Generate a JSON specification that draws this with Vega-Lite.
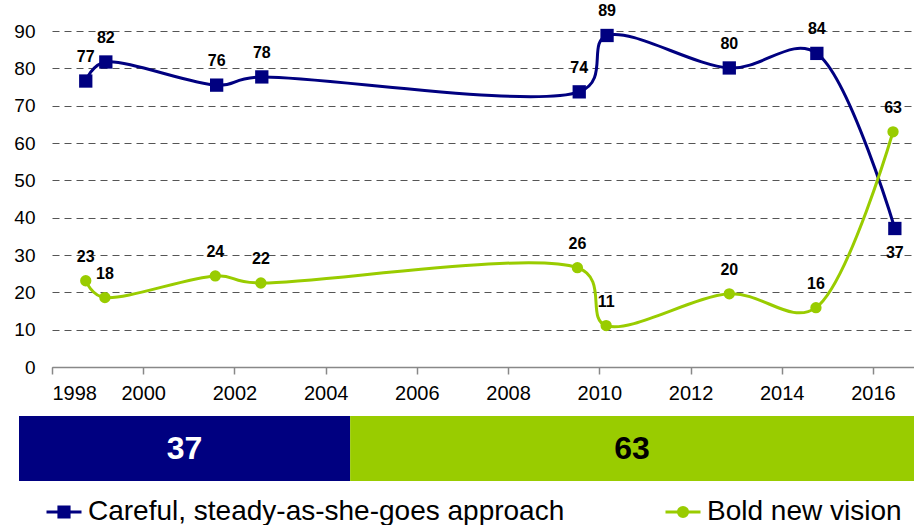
{
  "$schema": "https://vega.github.io/schema/vega-lite/v6.json",
  "padding": {"left": 13, "top": 3, "right": 1, "bottom": 0},
  "background": "white",
  "config": {"view": {"stroke": null}, "font": "Liberation Sans"},
  "datasets": {
    "trend": [
      {"series": "Careful, steady-as-she-goes approach", "year": 1998.74, "pct": 76.6, "label": 77},
      {"series": "Careful, steady-as-she-goes approach", "year": 1999.18, "pct": 81.7, "label": 82},
      {"series": "Careful, steady-as-she-goes approach", "year": 2001.61, "pct": 75.5, "label": 76},
      {"series": "Careful, steady-as-she-goes approach", "year": 2002.6, "pct": 77.7, "label": 78},
      {"series": "Careful, steady-as-she-goes approach", "year": 2009.56, "pct": 73.7, "label": 74},
      {"series": "Careful, steady-as-she-goes approach", "year": 2010.17, "pct": 88.8, "label": 89},
      {"series": "Careful, steady-as-she-goes approach", "year": 2012.85, "pct": 80.1, "label": 80},
      {"series": "Careful, steady-as-she-goes approach", "year": 2014.77, "pct": 84.0, "label": 84},
      {"series": "Careful, steady-as-she-goes approach", "year": 2016.48, "pct": 37.1, "label": 37},
      {"series": "Bold new vision", "year": 1998.74, "pct": 23.1, "label": 23},
      {"series": "Bold new vision", "year": 1999.16, "pct": 18.6, "label": 18},
      {"series": "Bold new vision", "year": 2001.58, "pct": 24.4, "label": 24},
      {"series": "Bold new vision", "year": 2002.58, "pct": 22.5, "label": 22},
      {"series": "Bold new vision", "year": 2009.52, "pct": 26.6, "label": 26},
      {"series": "Bold new vision", "year": 2010.15, "pct": 11.1, "label": 11},
      {"series": "Bold new vision", "year": 2012.85, "pct": 19.6, "label": 20},
      {"series": "Bold new vision", "year": 2014.75, "pct": 15.9, "label": 16},
      {"series": "Bold new vision", "year": 2016.44, "pct": 63.0, "label": 63}
    ],
    "now": [
      {"series": "Careful, steady-as-she-goes approach", "pct": 37},
      {"series": "Bold new vision", "pct": 63}
    ]
  },
  "spacing": 13,
  "vconcat": [
    {
      "width": 862,
      "height": 336,
      "data": {"name": "trend"},
      "encoding": {
        "x": {
          "field": "year", "type": "quantitative",
          "scale": {"domain": [1998, 2016.9], "nice": false, "zero": false},
          "axis": {
            "values": [1998, 2000, 2002, 2004, 2006, 2008, 2010, 2012, 2014, 2016],
            "format": "d", "grid": false, "title": null,
            "domainColor": "#888888", "domainWidth": 1.5,
            "tickColor": "#888888", "tickSize": 7, "tickWidth": 1.5,
            "labelFontSize": 20, "labelPadding": 9, "labelColor": "#000000",
            "labelFont": "Liberation Sans"
          }
        },
        "y": {
          "field": "pct", "type": "quantitative",
          "scale": {"domain": [0, 90], "nice": false},
          "axis": {
            "values": [0, 10, 20, 30, 40, 50, 60, 70, 80, 90],
            "grid": true, "gridDash": [7, 5], "gridColor": "#555555", "gridWidth": 1,
            "domain": false, "ticks": false, "title": null,
            "labelPadding": 17, "labelFontSize": 19, "labelColor": "#000000",
            "labelFont": "Liberation Sans"
          }
        }
      },
      "layer": [
        {
          "mark": {"type": "line", "interpolate": "catmull-rom", "tension": 0.3, "strokeWidth": 3},
          "encoding": {
            "color": {
              "field": "series", "type": "nominal",
              "scale": {"domain": ["Careful, steady-as-she-goes approach", "Bold new vision"], "range": ["#000080", "#99CC00"]},
              "sort": null,
              "legend": {
                "title": null, "orient": "none", "legendX": -7, "legendY": 462, "direction": "horizontal",
                "columns": 2, "columnPadding": 94,
                "symbolSize": 1225, "symbolStrokeWidth": 3,
                "labelFontSize": 28, "labelColor": "#000000", "labelOffset": 5, "labelLimit": 0,
                "labelFont": "Liberation Sans",
                "encode": {
                  "symbols": {
                    "update": {
                      "shape": {"signal": "datum.value === 'Bold new vision' ? 'M-1,0H1M0.26,0A0.26,0.26,0,1,1,-0.26,0A0.26,0.26,0,1,1,0.26,0Z' : 'M-1,0H1M-0.29,-0.29H0.29V0.29H-0.29Z'"},
                      "fill": {"signal": "datum.value === 'Bold new vision' ? '#99CC00' : '#000080'"},
                      "stroke": {"signal": "datum.value === 'Bold new vision' ? '#99CC00' : '#000080'"},
                      "strokeWidth": {"value": 3},
                      "opacity": {"value": 1},
                      "fillOpacity": {"value": 1}
                    }
                  }
                }
              }
            }
          }
        },
        {
          "transform": [{"filter": "datum.series === 'Careful, steady-as-she-goes approach'"}],
          "mark": {"type": "point", "shape": "square", "filled": true, "size": 177, "opacity": 1, "color": "#000080"}
        },
        {
          "transform": [{"filter": "datum.series === 'Bold new vision'"}],
          "mark": {"type": "point", "shape": "circle", "filled": true, "size": 128, "opacity": 1, "color": "#99CC00"}
        },
        {
          "transform": [{"filter": "!(datum.series === 'Careful, steady-as-she-goes approach' && datum.year > 2016)"}],
          "mark": {"type": "text", "dy": -24, "fontSize": 16, "fontWeight": "bold", "color": "#000000", "font": "Liberation Sans"},
          "encoding": {"text": {"field": "label", "type": "quantitative"}}
        },
        {
          "transform": [{"filter": "datum.series === 'Careful, steady-as-she-goes approach' && datum.year > 2016"}],
          "mark": {"type": "text", "dy": 25, "fontSize": 16, "fontWeight": "bold", "color": "#000000", "font": "Liberation Sans"},
          "encoding": {"text": {"field": "label", "type": "quantitative"}}
        }
      ]
    },
    {
      "width": 862,
      "height": 65,
      "data": {"name": "now"},
      "transform": [
        {"stack": "pct", "groupby": [], "as": ["p0", "p1"], "sort": [{"field": "series", "order": "descending"}]},
        {"calculate": "(datum.p0 + datum.p1) / 2", "as": "mid"}
      ],
      "layer": [
        {
          "mark": {"type": "bar"},
          "encoding": {
            "x": {"field": "p0", "type": "quantitative", "scale": {"domain": [0, 100], "nice": false, "range": [-33, 862]}, "axis": null},
            "x2": {"field": "p1"},
            "y": {"value": 0},
            "y2": {"value": 65},
            "color": {"condition": {"test": "datum.series === 'Careful, steady-as-she-goes approach'", "value": "#000080"}, "value": "#99CC00"}
          }
        },
        {
          "mark": {"type": "text", "fontSize": 32, "fontWeight": "bold", "font": "Liberation Sans"},
          "encoding": {
            "x": {"field": "mid", "type": "quantitative", "scale": {"domain": [0, 100], "nice": false, "range": [-33, 862]}, "axis": null},
            "y": {"value": 32.5},
            "text": {"field": "pct", "type": "quantitative"},
            "color": {"condition": {"test": "datum.series === 'Careful, steady-as-she-goes approach'", "value": "#ffffff"}, "value": "#000000"}
          }
        }
      ]
    }
  ]
}
